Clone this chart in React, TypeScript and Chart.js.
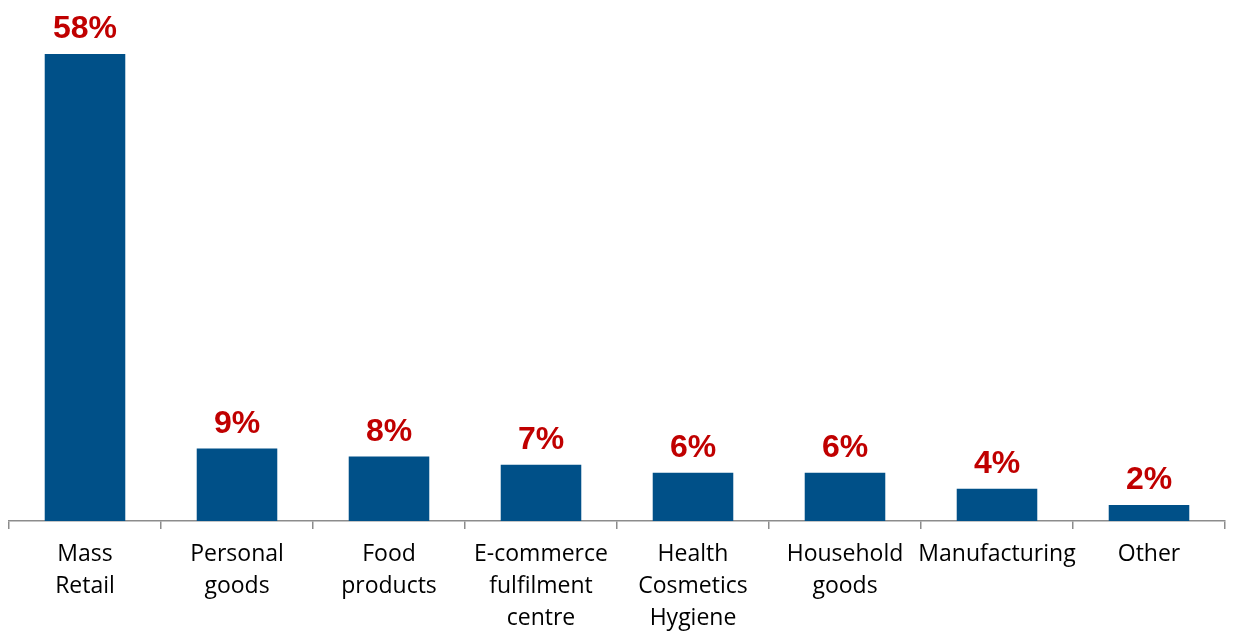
import React, { useEffect, useRef } from "react";
import { Chart, registerables } from "chart.js";

Chart.register(...registerables);

const categories: string[][] = [
  ["Mass", "Retail"],
  ["Personal", "goods"],
  ["Food", "products"],
  ["E-commerce", "fulfilment", "centre"],
  ["Health", "Cosmetics", "Hygiene"],
  ["Household", "goods"],
  ["Manufacturing"],
  ["Other"],
];
const shares: number[] = [58, 9, 8, 7, 6, 6, 4, 2];
const valueLabels: string[] = ["58%", "9%", "8%", "7%", "6%", "6%", "4%", "2%"];

const barColor = "#005088";
const labelColor = "#C00000";

const valueLabelPlugin = {
  id: "valueLabels",
  afterDatasetsDraw(chart: any) {
    const ctx = chart.ctx;
    const meta = chart.getDatasetMeta(0);
    ctx.save();
    ctx.font = "bold 32px 'Liberation Sans', Arial, sans-serif";
    ctx.fillStyle = labelColor;
    ctx.textAlign = "center";
    ctx.textBaseline = "alphabetic";
    meta.data.forEach((bar: any, i: number) => {
      ctx.fillText(valueLabels[i], bar.x, bar.y - 16);
    });
    ctx.restore();
  },
};

export default function App() {
  const ref = useRef<HTMLCanvasElement | null>(null);
  useEffect(() => {
    if (!ref.current) return;
    const chart = new Chart(ref.current, {
      type: "bar",
      data: {
        labels: categories,
        datasets: [
          {
            data: shares,
            backgroundColor: barColor,
            borderWidth: 0,
            barPercentage: 0.53,
            categoryPercentage: 1,
          },
        ],
      },
      options: {
        animation: false,
        responsive: false,
        maintainAspectRatio: false,
        layout: { padding: { left: 9, right: 8, top: 38, bottom: 0 } },
        plugins: { legend: { display: false }, tooltip: { enabled: false } },
        scales: {
          y: { display: false, min: 0, max: 60 },
          x: {
            offset: true,
            afterFit: (s: any) => {
              s.height = 113;
            },
            grid: {
              display: true,
              offset: true,
              drawOnChartArea: false,
              drawTicks: true,
              tickLength: 8,
              color: "#8c8c8c",
              lineWidth: 1.5,
            },
            border: { display: true, color: "#8c8c8c", width: 1.5 },
            ticks: {
              color: "#000000",
              padding: 9,
              maxRotation: 0,
              autoSkip: false,
              font: { family: "'Open Sans', sans-serif", size: 23, lineHeight: 1.4 },
            },
          },
        },
      },
      plugins: [valueLabelPlugin],
    });
    return () => chart.destroy();
  }, []);
  return (
    <div style={{ position: "absolute", left: 0, top: 0, width: 1233, height: 634, background: "#fff" }}>
      <canvas ref={ref} width={1233} height={634} />
    </div>
  );
}
